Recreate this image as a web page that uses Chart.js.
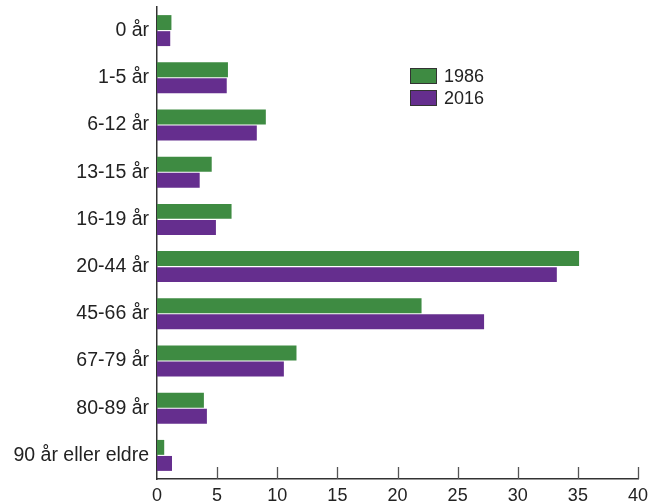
<!DOCTYPE html>
<html>
<head>
<meta charset="utf-8">
<script src="https://cdn.jsdelivr.net/npm/chart.js@4/dist/chart.umd.min.js"></script>
<style>
  html, body { margin: 0; padding: 0; background: #fff; }
  #wrap { position: relative; width: 659px; height: 502px; }
  #legend { position: absolute; left: 410px; top: 65px; font-family: "Liberation Sans", Arial, sans-serif; font-size: 18px; color: #222; }
  .item { display: flex; align-items: center; height: 22px; }
  .box { width: 27px; height: 16px; border: 1px solid #333; box-sizing: border-box; margin-right: 7px; }
</style>
</head>
<body>
<div id="wrap">
  <canvas id="c" width="659" height="502"></canvas>
  <div id="legend"></div>
</div>
<script>
const categories = ["0 år", "1-5 år", "6-12 år", "13-15 år", "16-19 år", "20-44 år", "45-66 år", "67-79 år", "80-89 år", "90 år eller eldre"];
const values1986 = [1.2, 5.9, 9.05, 4.55, 6.2, 35.1, 22.0, 11.6, 3.9, 0.6];
const values2016 = [1.1, 5.8, 8.3, 3.55, 4.9, 33.25, 27.2, 10.55, 4.15, 1.25];
const seriesNames = ["1986", "2016"];
const xTicks = [0, 5, 10, 15, 20, 25, 30, 35, 40];
const colors = ["#3e8b42", "#652e8e"];

const legend = document.getElementById('legend');
seriesNames.forEach((n, i) => {
  const d = document.createElement('div');
  d.className = 'item';
  d.innerHTML = '<span class="box" style="background:' + colors[i] + '"></span><span>' + n + '</span>';
  legend.appendChild(d);
});

const innerTicks = {
  id: 'innerTicks',
  afterDraw(chart) {
    const ctx = chart.ctx, xs = chart.scales.x, area = chart.chartArea;
    ctx.save();
    ctx.strokeStyle = '#555';
    ctx.lineWidth = 1.3;
    xTicks.forEach(v => {
      if (v === 0) return;
      const px = Math.round(xs.getPixelForValue(v)) + 0.5;
      ctx.beginPath();
      ctx.moveTo(px, area.bottom - 12);
      ctx.lineTo(px, area.bottom);
      ctx.stroke();
    });
    ctx.restore();
  }
};

const FONT = '"Liberation Sans", Arial, sans-serif';

new Chart(document.getElementById('c'), {
  type: 'bar',
  data: {
    labels: categories,
    datasets: [
      { label: seriesNames[0], data: values1986, backgroundColor: colors[0] },
      { label: seriesNames[1], data: values2016, backgroundColor: colors[1] }
    ]
  },
  options: {
    indexAxis: 'y',
    responsive: false,
    animation: false,
    layout: { padding: { top: 7, right: 21, bottom: 0, left: 0 } },
    datasets: { bar: { categoryPercentage: 0.68, barPercentage: 0.93 } },
    plugins: { legend: { display: false }, tooltip: { enabled: false } },
    scales: {
      x: {
        min: 0, max: 40,
        afterBuildTicks: s => { s.ticks = xTicks.map(v => ({ value: v })); },
        afterFit: s => { s.height = 23; s.paddingLeft = 0; s.paddingRight = 0; },
        grid: { display: false, drawTicks: false },
        border: { display: true, color: '#333', width: 1.5 },
        ticks: { padding: 6, color: '#222', font: { family: FONT, size: 18 }, maxRotation: 0 }
      },
      y: {
        afterFit: s => { s.width = 157; s.paddingTop = 0; s.paddingBottom = 0; },
        grid: { display: false, drawTicks: false },
        border: { display: true, color: '#333', width: 1.5 },
        ticks: { padding: 8, color: '#222', font: { family: FONT, size: 19.5 } }
      }
    }
  },
  plugins: [innerTicks]
});
</script>
</body>
</html>
